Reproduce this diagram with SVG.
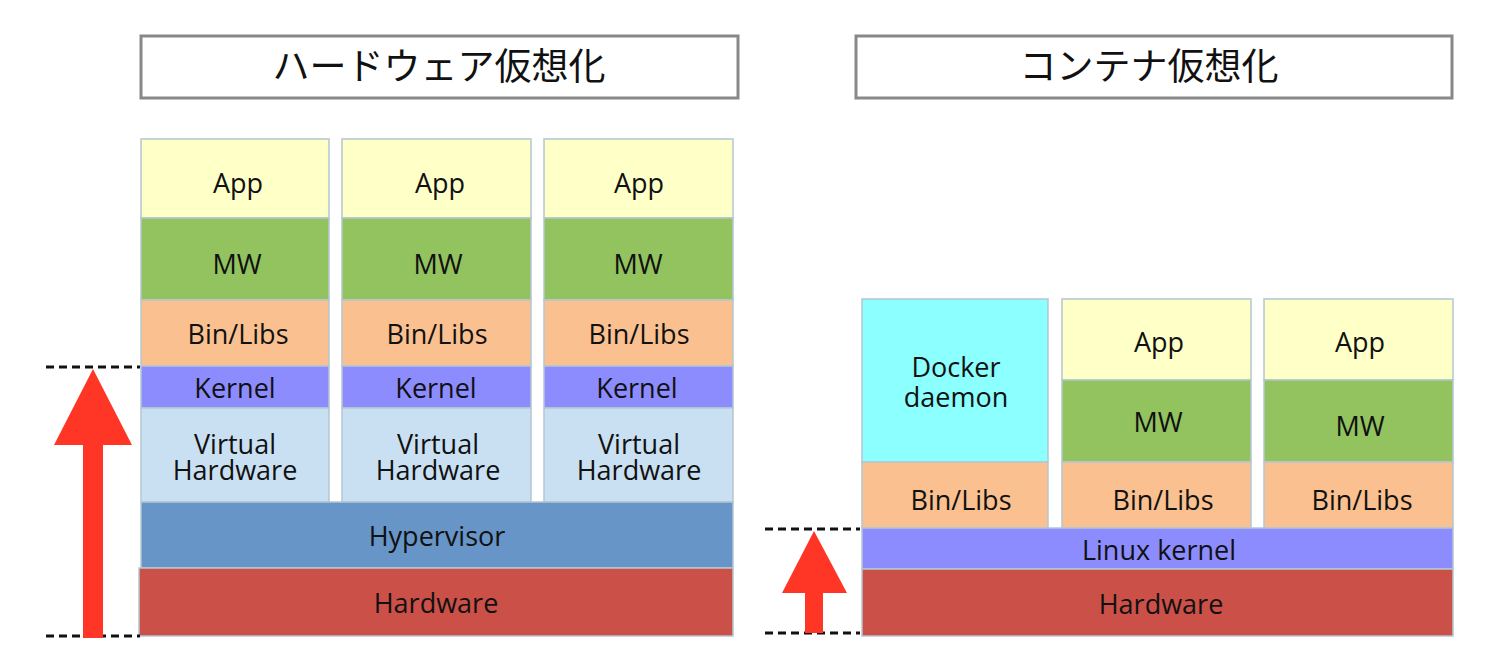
<svg xmlns="http://www.w3.org/2000/svg" width="1500" height="672" viewBox="0 0 1500 672">
<style>
.t{font-family:"Open Sans","Noto Sans",sans-serif;font-size:27px;fill:#111;text-anchor:middle}
.ttl{font-family:"Noto Sans CJK JP","Noto Sans",sans-serif;font-size:37px;fill:#111;text-anchor:middle}
.box{stroke:#B4C6D2;stroke-width:1.5}
.app{fill:#FFFFC8}.mw{fill:#92C35E}.bin{fill:#FAC08F}.ker{fill:#8C8CFF}.vh{fill:#C9E0F3}.hyp{fill:#6795C7}.hw{fill:#CB5048}.dock{fill:#8CFFFF}
.title{fill:#fff;stroke:#888;stroke-width:3}
.dash{stroke:#111;stroke-width:3;stroke-dasharray:8 5;fill:none}
.arr{fill:#FF3526}
</style>
<rect width="1500" height="672" fill="#fff"/>
<g id="title-hw">
<rect class="title" x="141" y="36" width="597" height="62"/>
<text class="ttl" x="439" y="80">ハードウェア仮想化</text>
</g>
<g id="title-ct">
<rect class="title" x="856" y="36" width="596" height="62"/>
<text class="ttl" x="1149" y="80">コンテナ仮想化</text>
</g>
<g id="vm1">
<rect class="box app" x="141" y="139" width="188" height="79"/><text class="t" x="238" y="193">App</text>
<rect class="box mw" x="141" y="218" width="188" height="82"/><text class="t" x="237" y="274">MW</text>
<rect class="box bin" x="141" y="300" width="188" height="66"/><text class="t" x="238" y="344">Bin/Libs</text>
<rect class="box ker" x="141" y="366" width="188" height="42"/><text class="t" x="235" y="398">Kernel</text>
<rect class="box vh" x="141" y="408" width="188" height="94"/><text class="t" x="235" y="454">Virtual</text><text class="t" x="235" y="480">Hardware</text>
</g>
<g id="vm2">
<rect class="box app" x="342" y="139" width="189" height="79"/><text class="t" x="440" y="193">App</text>
<rect class="box mw" x="342" y="218" width="189" height="82"/><text class="t" x="438" y="274">MW</text>
<rect class="box bin" x="342" y="300" width="189" height="66"/><text class="t" x="437" y="344">Bin/Libs</text>
<rect class="box ker" x="342" y="366" width="189" height="42"/><text class="t" x="436" y="398">Kernel</text>
<rect class="box vh" x="342" y="408" width="189" height="94"/><text class="t" x="438" y="454">Virtual</text><text class="t" x="438" y="480">Hardware</text>
</g>
<g id="vm3">
<rect class="box app" x="544" y="139" width="189" height="79"/><text class="t" x="639" y="193">App</text>
<rect class="box mw" x="544" y="218" width="189" height="82"/><text class="t" x="638" y="274">MW</text>
<rect class="box bin" x="544" y="300" width="189" height="66"/><text class="t" x="639" y="344">Bin/Libs</text>
<rect class="box ker" x="544" y="366" width="189" height="42"/><text class="t" x="637" y="398">Kernel</text>
<rect class="box vh" x="544" y="408" width="189" height="94"/><text class="t" x="639" y="454">Virtual</text><text class="t" x="639" y="480">Hardware</text>
</g>
<g id="hypervisor">
<rect class="box hyp" x="141" y="502" width="592" height="66"/><text class="t" x="437" y="546">Hypervisor</text>
</g>
<g id="hardware-hw">
<rect class="box hw" x="139" y="568" width="594" height="68"/><text class="t" x="436" y="613">Hardware</text>
</g>
<g id="docker">
<rect class="box dock" x="862" y="299" width="186" height="163"/><text class="t" x="956" y="377">Docker</text><text class="t" x="956" y="407">daemon</text>
<rect class="box bin" x="862" y="462" width="186" height="66"/><text class="t" x="961" y="510">Bin/Libs</text>
</g>
<g id="ct1">
<rect class="box app" x="1062" y="299" width="189" height="81"/><text class="t" x="1159" y="352">App</text>
<rect class="box mw" x="1062" y="380" width="189" height="82"/><text class="t" x="1158" y="432">MW</text>
<rect class="box bin" x="1062" y="462" width="189" height="66"/><text class="t" x="1163" y="510">Bin/Libs</text>
</g>
<g id="ct2">
<rect class="box app" x="1264" y="299" width="189" height="81"/><text class="t" x="1360" y="352">App</text>
<rect class="box mw" x="1264" y="380" width="189" height="82"/><text class="t" x="1360" y="436">MW</text>
<rect class="box bin" x="1264" y="462" width="189" height="66"/><text class="t" x="1362" y="510">Bin/Libs</text>
</g>
<g id="linux-kernel">
<rect class="box ker" x="862" y="528" width="591" height="41"/><text class="t" x="1159" y="560">Linux kernel</text>
</g>
<g id="hardware-ct">
<rect class="box hw" x="862" y="569" width="591" height="67"/><text class="t" x="1161" y="614">Hardware</text>
</g>
<g id="connectors">
<line class="dash" x1="46" y1="367" x2="140" y2="367"/>
<line class="dash" x1="46" y1="636" x2="140" y2="636"/>
<polygon class="arr" points="93,369 132,445 103,445 103,638 83,638 83,445 54,445"/>
<line class="dash" x1="765" y1="529" x2="860" y2="529"/>
<line class="dash" x1="765" y1="633" x2="860" y2="633"/>
<polygon class="arr" points="814,531 847,593 823,593 823,633 805,633 805,593 782,593"/>
</g>
</svg>
